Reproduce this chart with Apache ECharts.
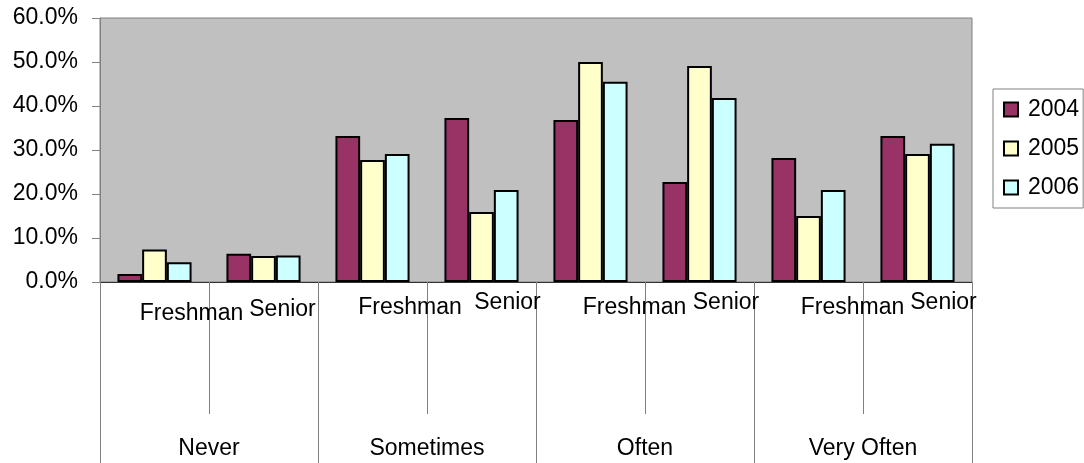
<!DOCTYPE html>
<html>
<head>
<meta charset="utf-8">
<title>Frequency by class year</title>
<script src="https://cdn.jsdelivr.net/npm/echarts@6/dist/echarts.min.js"></script>
<style>
  html, body { margin: 0; padding: 0; background: #ffffff; }
  #chart { width: 1084px; height: 463px; }
</style>
</head>
<body>
<div id="chart"></div>
<script>
// Class year within each frequency group
const categories = ['Freshman', 'Senior', 'Freshman', 'Senior', 'Freshman', 'Senior', 'Freshman', 'Senior'];
// Frequency groups (outer level of the category axis)
const groups = ['Never', 'Sometimes', 'Often', 'Very Often'];
// Survey years
const years = ['2004', '2005', '2006'];
// Percent of respondents
const v2004 = [1.8, 6.4, 33.2, 37.3, 36.8, 22.7, 28.2, 33.2];
const v2005 = [7.4, 5.9, 27.7, 15.9, 50.0, 49.1, 15.0, 29.1];
const v2006 = [4.5, 6.0, 29.1, 20.9, 45.5, 41.8, 20.9, 31.4];
// Y axis range
const yMin = 0, yMax = 60, yStep = 10;

const colors = ['#993366', '#FFFFCC', '#CCFFFF'];
const font = "'Liberation Sans', Arial, sans-serif";

// Per-label nudges of the inner category labels (horizontal, vertical)
const labelShiftX = [37, 19, 37.5, 26, 44, 26.5, 44, 26];
const labelShiftY = [11, 7, 5, 0, 5, 0, 5, 0];
const rich = {};
labelShiftX.forEach((dx, i) => {
  rich['c' + i] = {
    fontFamily: font, fontSize: 23, color: '#000',
    padding: [labelShiftY[i], 0, 0, dx * 2]
  };
});

const seriesValues = [v2004, v2005, v2006];

const chart = echarts.init(document.getElementById('chart'), null, { renderer: 'canvas' });
chart.setOption({
  animation: false,
  textStyle: { fontFamily: font },
  grid: {
    left: 100, top: 18, width: 872, height: 264,
    show: true, backgroundColor: '#C0C0C0', borderColor: '#808080', borderWidth: 1,
    containLabel: false
  },
  legend: {
    data: years,
    orient: 'vertical',
    left: 993, top: 89,
    padding: [9, 4, 9, 10],
    itemGap: 16,
    itemWidth: 14, itemHeight: 14,
    icon: 'rect',
    backgroundColor: '#ffffff',
    borderColor: '#808080', borderWidth: 1,
    textStyle: { fontFamily: font, fontSize: 23, color: '#000', padding: [0, 0, 0, 5] }
  },
  xAxis: [
    {
      type: 'category',
      data: categories,
      position: 'bottom',
      axisLine: { show: true, lineStyle: { color: '#333', width: 1 } },
      axisTick: { show: true, interval: 0, length: 132, lineStyle: { color: '#808080', width: 1 } },
      axisLabel: {
        interval: 0, margin: 9,
        formatter: (val, idx) => '{c' + idx + '|' + val + '}',
        rich: rich
      },
      splitLine: { show: false }
    },
    {
      type: 'category',
      data: groups,
      position: 'bottom',
      gridIndex: 0,
      axisLine: { show: false },
      axisTick: { show: true, interval: 0, length: 181, lineStyle: { color: '#808080', width: 1 } },
      axisLabel: { interval: 0, margin: 155, fontFamily: font, fontSize: 23, color: '#000' },
      splitLine: { show: false }
    }
  ],
  yAxis: {
    type: 'value',
    min: yMin, max: yMax, interval: yStep,
    axisLine: { show: true, lineStyle: { color: '#808080', width: 1 } },
    axisTick: { show: true, inside: false, length: 8, lineStyle: { color: '#808080', width: 1 } },
    axisLabel: {
      margin: 22, fontFamily: font, fontSize: 23, color: '#000',
      formatter: v => v.toFixed(1) + '%'
    },
    splitLine: { show: false }
  },
  series: years.map((y, i) => ({
    name: y,
    type: 'bar',
    xAxisIndex: 0,
    data: seriesValues[i],
    barGap: '0%',
    barCategoryGap: '32%',
    itemStyle: { color: colors[i], borderColor: '#000', borderWidth: 2 }
  }))
});
</script>
</body>
</html>
